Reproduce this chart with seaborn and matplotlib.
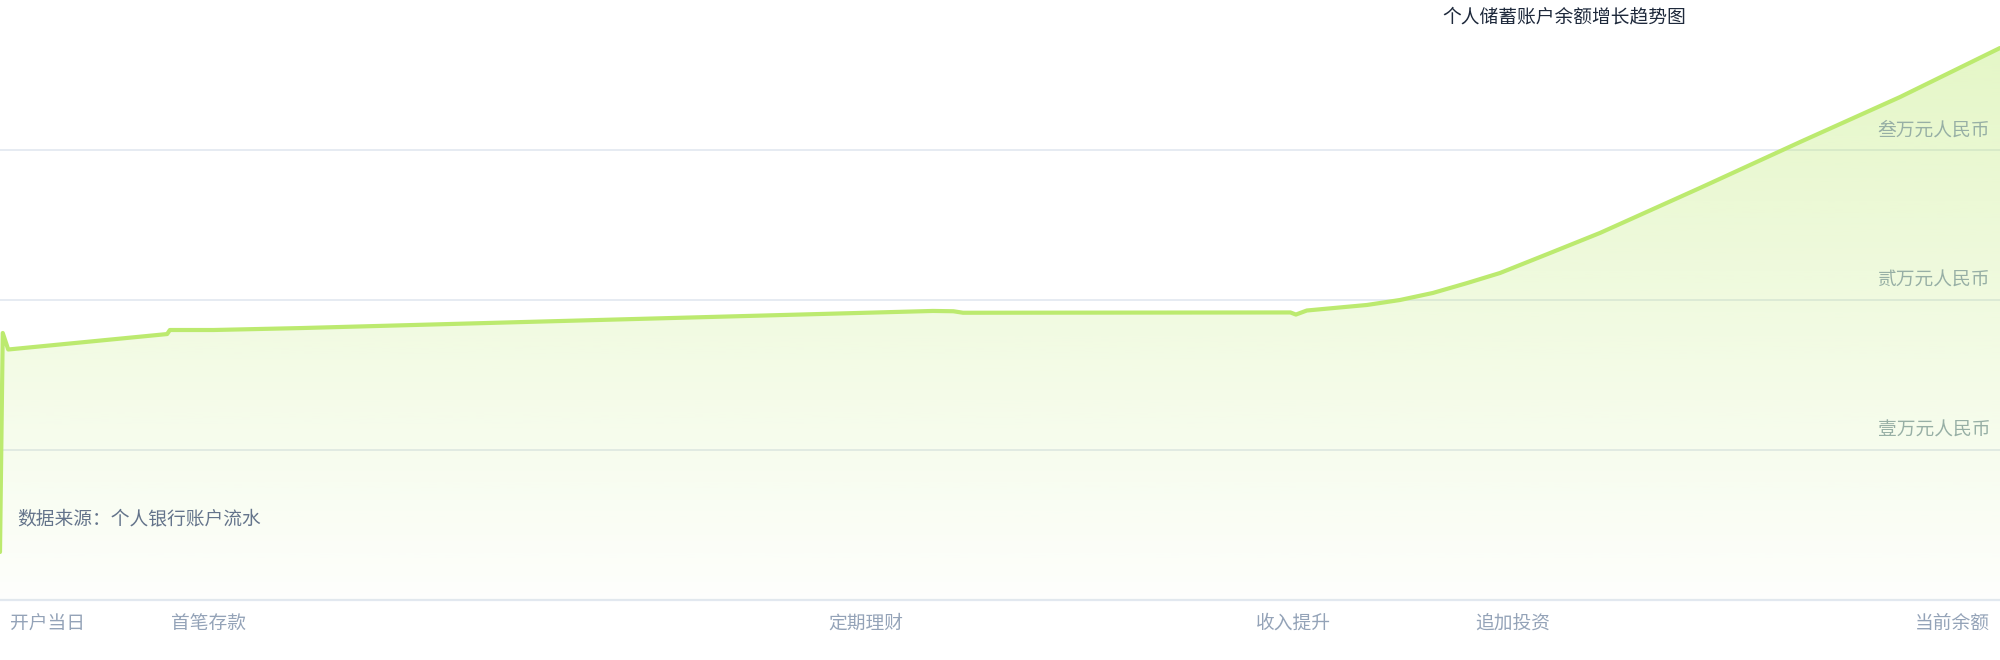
import matplotlib
matplotlib.use("Agg")
import numpy as np
import pandas as pd
import seaborn as sns
import matplotlib.pyplot as plt
from matplotlib.patches import Polygon
from matplotlib.transforms import ScaledTranslation, blended_transform_factory

# data (day index, balance in yuan)
days = [0, 1, 3, 61, 62, 78, 110, 182.5, 340.5, 348, 351.5, 471, 473, 477,
        499, 511, 523, 535.5, 547.5, 565.75, 584, 620.5, 657, 693.5, 730]
balance = [3200, 17800, 16700, 17730, 18000, 18000, 18130, 18490, 19270, 19250,
           19150, 19170, 19030, 19300, 19670, 20000, 20470, 21130, 21800, 23130,
           24470, 27470, 30530, 33530, 36800]

tick_days = [0, 76, 316, 472, 552, 730]
tick_labels = ["开户当日", "首笔存款", "定期理财", "收入提升", "追加投资", "当前余额"]

grid_values = [10000, 20000, 30000]
grid_labels = ["壹万元人民币", "贰万元人民币", "叁万元人民币"]

title = "个人储蓄账户余额增长趋势图"
note = "数据来源：个人银行账户流水"

line_color = "#bcea6f"

sns.set_theme(style="white")
plt.rcParams["font.family"] = ["Noto Sans CJK SC", "DejaVu Sans"]

df = pd.DataFrame({"day": days, "balance": balance})

fig = plt.figure(figsize=(20, 6.6), dpi=100)
ax = fig.add_axes([0, 60 / 660, 1, 600 / 660])

# grid lines and base line
for v in grid_values:
    ax.axhline(v, color="#e2e8f0", lw=1.2, zorder=1)
ax.axhline(0, color="#e2e8f0", lw=1.6, zorder=1, clip_on=False)

# gradient fill under the line
poly = Polygon([(days[0], 0)] + list(zip(days, balance)) + [(days[-1], 0)],
               closed=True, facecolor="none", edgecolor="none")
ax.add_patch(poly)
rgb = matplotlib.colors.to_rgb(line_color)
grad = np.zeros((256, 1, 4))
grad[:, 0, :3] = rgb
grad[:, 0, 3] = np.linspace(0.02, 0.42, 256)
img = ax.imshow(grad, extent=[0, 730, 0, 40000], origin="lower",
                aspect="auto", zorder=2)
img.set_clip_path(poly)

sns.lineplot(data=df, x="day", y="balance", color=line_color, linewidth=3,
             ax=ax, zorder=3, sort=False)

ax.set_xlim(0, 730)
ax.set_ylim(0, 40000)
for s in ax.spines.values():
    s.set_visible(False)
ax.set_xlabel("")
ax.set_ylabel("")
ax.set_yticks([])

ax.set_xticks(tick_days)
ax.set_xticklabels(tick_labels, fontsize=13.5, color="#94a3b8")
ax.tick_params(axis="x", length=0, pad=9)
labels = ax.get_xticklabels()
labels[0].set_ha("left")
labels[0].set_transform(labels[0].get_transform() + ScaledTranslation(10 / 100, 0, fig.dpi_scale_trans))
labels[-1].set_ha("right")
labels[-1].set_transform(labels[-1].get_transform() + ScaledTranslation(-10 / 100, 0, fig.dpi_scale_trans))

trans = blended_transform_factory(ax.transAxes, ax.transData)
for v, lab in zip(grid_values, grid_labels):
    ax.annotate(lab, xy=(1, v), xycoords=trans, xytext=(-7, 7),
                textcoords="offset points", ha="right", va="bottom",
                fontsize=13.5, color="#97afa5", zorder=4)

fig.text(1442 / 2000, 1 - 6 / 660, title, ha="left", va="top",
         fontsize=13.5, color="#1e293b")
fig.text(17 / 2000, 1 - 519 / 660, note, ha="left", va="center",
         fontsize=13.5, color="#64748b")

fig.savefig("out.png", dpi=100, facecolor="white")
